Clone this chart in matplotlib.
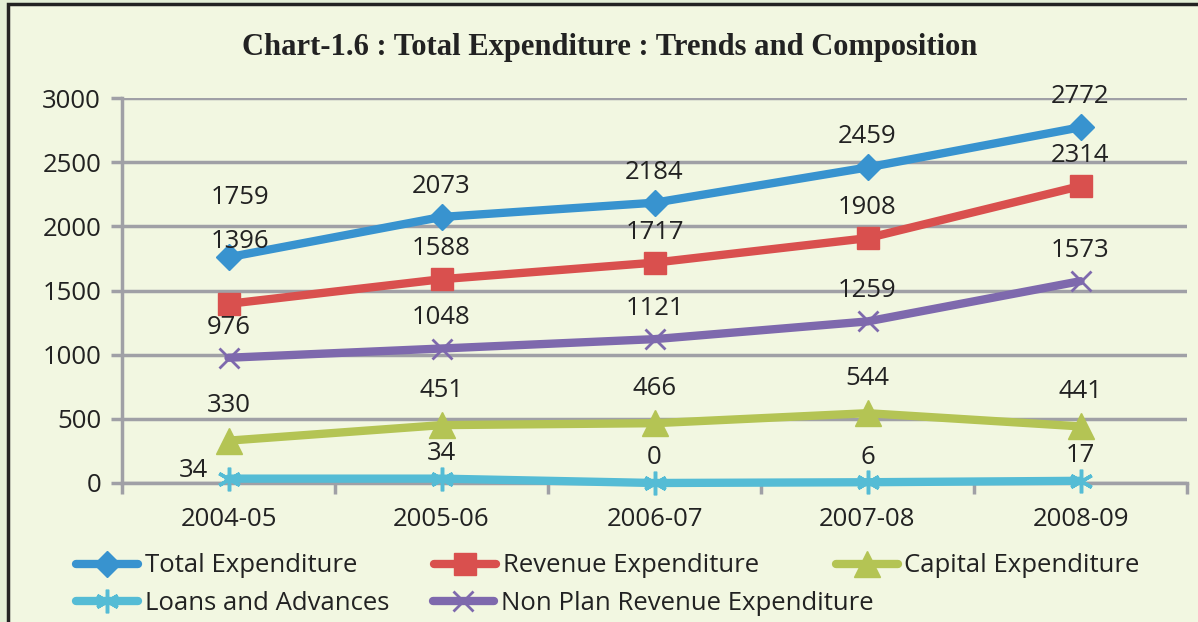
import matplotlib.pyplot as plt
from matplotlib.patches import Rectangle

years = ['2004-05', '2005-06', '2006-07', '2007-08', '2008-09']
total = [1759, 2073, 2184, 2459, 2772]
revenue = [1396, 1588, 1717, 1908, 2314]
capital = [330, 451, 466, 544, 441]
loans = [34, 34, 0, 6, 17]
nonplan = [976, 1048, 1121, 1259, 1573]

FONT = 'Open Sans'
plt.rcParams['font.family'] = [FONT, 'DejaVu Sans']
FS = 18.5

fig = plt.figure(figsize=(11.98, 6.22), dpi=100)
fig.patch.set_facecolor('#e3eed6')
# inner panel with dark frame
fig.patches.append(Rectangle((8 / 1198, -0.05), 1.2, 1.05 - 4 / 622, transform=fig.transFigure,
                             facecolor='#f2f7e1', edgecolor='#222222', linewidth=2.5, zorder=-10))

ax = fig.add_axes([122 / 1198, 1 - 483 / 622, (1187 - 122) / 1198, (483 - 98) / 622])
ax.set_facecolor('none')

x = list(range(len(years)))
series = [
    ('Total Expenditure', total, '#3893cf', dict(marker='D', ms=13)),
    ('Revenue Expenditure', revenue, '#d9504e', dict(marker='s', ms=16)),
    ('Capital Expenditure', capital, '#b4c454', dict(marker='^', ms=19)),
    ('Loans and Advances', loans, '#55bcd5', dict(marker=(6, 2, 0), ms=17, mew=2.5)),
    ('Non Plan Revenue Expenditure', nonplan, '#7e69ad', dict(marker='x', ms=15, mew=2)),
]

handles = {}
for name, vals, col, mk in series:
    ln, = ax.plot(x, vals, color=col, lw=6, mec=col, mfc=col, label=name, zorder=3,
                  solid_capstyle='round', clip_on=False, **mk)
    handles[name] = ln

# data labels: default above the point, a few moved by hand
special = {('Total Expenditure', 0): (8, 43), ('Revenue Expenditure', 0): (8, 45),
           ('Loans and Advances', 0): (-25, 6)}
for name, vals, col, mk in series:
    dy = 25 if name == 'Capital Expenditure' else 22
    if name == 'Loans and Advances':
        dy = 18
    for i, v in enumerate(vals):
        off = special.get((name, i), (0, dy))
        ax.annotate(str(v), (i, v), xytext=off, textcoords='offset points',
                    ha='center', va='center', fontsize=FS, color='#222222', zorder=4)

ax.set_xlim(-0.5, 4.5)
ax.set_ylim(0, 3000)
ax.set_yticks(range(0, 3001, 500))
ax.set_xticks(x)
ax.set_xticklabels(years)
ax.set_xticks([i - 0.5 for i in range(len(years) + 1)], minor=True)
ax.grid(axis='y', color='#a0a0a6', lw=2.5, zorder=1)
ax.set_axisbelow(True)
for s in ['top', 'right']:
    ax.spines[s].set_visible(False)
for s in ['left', 'bottom']:
    ax.spines[s].set_color('#a0a0a6')
    ax.spines[s].set_linewidth(2.5)
    ax.spines[s].set_zorder(1.5)
ax.tick_params(axis='y', length=8, width=2.5, color='#a0a0a6', labelsize=FS,
               labelcolor='#222222', pad=7)
ax.tick_params(axis='x', which='major', length=0, labelsize=FS, labelcolor='#222222', pad=17)
ax.tick_params(axis='x', which='minor', length=8, width=2.5, color='#a0a0a6')

fig.text(0.509, 1 - 47 / 622, 'Chart-1.6 : Total Expenditure : Trends and Composition',
         family='Liberation Serif', weight='bold', fontsize=22, color='#222222',
         ha='center', va='center')

row1 = ['Total Expenditure', 'Revenue Expenditure', 'Capital Expenditure']
row2 = ['Loans and Advances', 'Non Plan Revenue Expenditure']
leg1 = fig.legend([handles[n] for n in row1], row1, loc='center left',
                  bbox_to_anchor=(76 / 1198, 1 - 566 / 622), ncol=3, frameon=False,
                  fontsize=FS, handlelength=2.4, handletextpad=0.27, columnspacing=3.0,
                  borderaxespad=0, borderpad=0)
leg2 = fig.legend([handles[n] for n in row2], row2, loc='center left',
                  bbox_to_anchor=(76 / 1198, 1 - 603 / 622), ncol=2, frameon=False,
                  fontsize=FS, handlelength=2.4, handletextpad=0.27, columnspacing=1.7,
                  borderaxespad=0, borderpad=0)
for leg in (leg1, leg2):
    for t in leg.get_texts():
        t.set_color('#222222')

fig.savefig('out.png', dpi=100, facecolor=fig.get_facecolor())
